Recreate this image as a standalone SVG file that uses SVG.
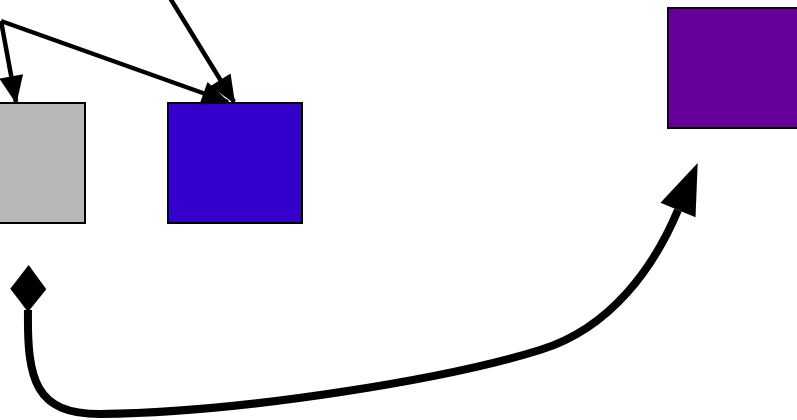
<svg xmlns="http://www.w3.org/2000/svg" width="797" height="420" viewBox="0 0 797 420">
<style>
.node{stroke:#000;stroke-width:2}
.edge{fill:none;stroke:#000;stroke-width:4.5}
.thick{fill:none;stroke:#000;stroke-width:8}
</style>
<defs>
<marker id="arr" markerUnits="userSpaceOnUse" markerWidth="32" markerHeight="32" viewBox="0 -16 32 32" refX="26" refY="0" orient="auto" overflow="visible">
<path d="M0,-12 L28,0 L0,12 z" fill="#000"/>
</marker>
<marker id="bigarr" markerUnits="userSpaceOnUse" markerWidth="60" markerHeight="60" viewBox="0 -30 60 60" refX="0" refY="0" orient="auto" overflow="visible">
<path d="M0,-19 L51,0 L0,19 z" fill="#000"/>
</marker>
<marker id="diamond" markerUnits="userSpaceOnUse" markerWidth="50" markerHeight="50" viewBox="-48 -25 50 50" refX="0" refY="0" orient="auto" overflow="visible">
<path d="M2,0 L-21,-18 L-45,0 L-21,18 z" fill="#000"/>
</marker>
</defs>
<rect width="797" height="420" fill="#fff"/>
<g id="node-gray"><rect class="node" x="-49" y="103" width="134" height="120" fill="#b8b8b8"/></g>
<g id="node-blue"><rect class="node" x="168" y="103" width="134" height="120" fill="#3300cc"/></g>
<g id="node-purple"><rect class="node" x="668" y="8" width="134" height="120" fill="#660099"/></g>
<g id="connectors">
<path class="edge" d="M1,21 L16,102" marker-end="url(#arr)"/>
<path class="edge" d="M1,21 L228,102" marker-end="url(#arr)"/>
<path class="edge" d="M170,-2 L234,102" marker-end="url(#arr)"/>
<path class="thick" d="M28,310 C27,380 35,414 100,414 C250,412 450,378 540,350 C612,328 655,265 678,210" marker-start="url(#diamond)" marker-end="url(#bigarr)"/>
</g>
</svg>
